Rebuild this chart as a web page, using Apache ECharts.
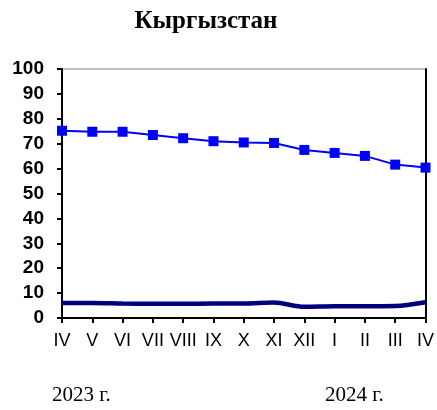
<!DOCTYPE html>
<html><head><meta charset="utf-8">
<script src="https://cdn.jsdelivr.net/npm/echarts@6/dist/echarts.min.js"></script>
<style>html,body{margin:0;padding:0;background:#fff}#c{width:437px;height:410px}</style>
</head><body><div id="c"></div>
<script>
const categories = ['IV','V','VI','VII','VIII','IX','X','XI','XII','I','II','III','IV'];
const seriesBlue = [75.2, 74.8, 74.8, 73.5, 72.2, 71.0, 70.5, 70.3, 67.5, 66.3, 65.1, 61.6, 60.4];
const seriesNavy = [6.0, 6.0, 5.8, 5.7, 5.7, 5.8, 5.8, 6.2, 4.5, 4.7, 4.7, 4.8, 6.3];
const yTicks = [0,10,20,30,40,50,60,70,80,90,100];
const titleText = 'Кыргызстан';
const yearLabels = ['2023 г.', '2024 г.'];

const chart = echarts.init(document.getElementById('c'), null, {renderer:'canvas'});
chart.setOption({
  animation:false,
  backgroundColor:'#fff',
  title:{text:titleText,left:201,textAlign:'center',top:4,
    textStyle:{fontFamily:'Liberation Serif',fontWeight:'bold',fontSize:25,color:'#000'}},
  grid:{left:62,right:8,top:69,bottom:92,show:true,borderColor:'#808080',borderWidth:1},
  xAxis:{type:'category',data:categories,boundaryGap:false,
    axisLine:{lineStyle:{color:'#000',width:2}},
    axisTick:{show:true,length:5,lineStyle:{color:'#000',width:2}},
    axisLabel:{fontFamily:'Liberation Sans',fontSize:18,color:'#000',margin:14,interval:0},
    splitLine:{show:false}},
  yAxis:[{type:'value',min:yTicks[0],max:yTicks[yTicks.length-1],interval:10,
    axisLine:{show:true,lineStyle:{color:'#000',width:2}},
    axisTick:{show:true,length:5,lineStyle:{color:'#000',width:2}},
    axisLabel:{fontFamily:'Liberation Sans',fontWeight:'bold',fontSize:19,color:'#000',margin:18},
    splitLine:{show:false}},
    {type:'value',position:'right',min:0,max:100,interval:10,
    axisLine:{show:true,lineStyle:{color:'#000',width:2}},
    axisTick:{show:false},axisLabel:{show:false},splitLine:{show:false}}],
  series:[
    {type:'line',data:seriesBlue,symbol:'rect',symbolSize:10,
      lineStyle:{color:'#0000ff',width:2},itemStyle:{color:'#0000ff'}},
    {type:'line',data:seriesNavy,symbol:'none',smooth:0.3,
      lineStyle:{color:'#000080',width:4.5}}
  ],
  graphic:[
    {type:'text',left:52,top:385,style:{text:yearLabels[0],font:'21px "Liberation Serif"',fill:'#000'}},
    {type:'text',left:325,top:385,style:{text:yearLabels[1],font:'21px "Liberation Serif"',fill:'#000'}}
  ]
});
</script></body></html>
